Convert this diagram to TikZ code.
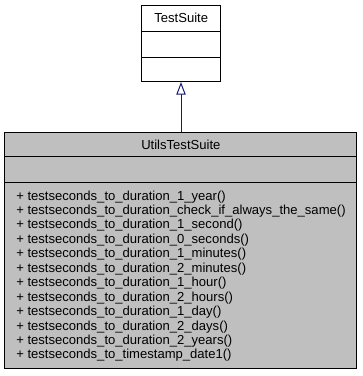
\documentclass[tikz,border=0pt]{standalone}
\usepackage{fontspec}
\setmainfont{Liberation Sans}
\usetikzlibrary{arrows.meta}
\definecolor{classgray}{HTML}{BFBFBF}
\definecolor{edgeblue}{HTML}{191970}
\tikzset{
  classbox/.style={draw=black, line width=0.75pt, rectangle, inner sep=0pt, outer sep=0pt},
  divider/.style={draw=black, line width=0.75pt},
  title/.style={anchor=base, inner sep=0pt, font=\fontsize{9.8pt}{10pt}\selectfont},
  member/.style={anchor=base west, inner sep=0pt, font=\fontsize{9.8pt}{10pt}\selectfont},
  inherit/.style={draw=edgeblue, line width=0.75pt,
    -{Triangle[open, length=9.5pt, width=7pt, fill=white]}}
}
\begin{document}
\begin{tikzpicture}[x=0.75pt, y=-0.75pt]
  \useasboundingbox (0,0) rectangle (363,376);

  % base class
  \node[classbox, fill=white, minimum width=59.25pt, minimum height=57.5pt] (base) at (181.2,43.65) {};
  \draw[divider] (base.west |- 0,31.7) -- (base.east |- 0,31.7);
  \draw[divider] (base.west |- 0,57) -- (base.east |- 0,57);
  \node[title] (basename) at (181.2,22) {TestSuite};

  % derived class
  \node[classbox, fill=classgray, minimum width=263.8pt, minimum height=176.8pt] (derived) at (180.85,250.15) {};
  \draw[divider] (derived.west |- 0,156.7) -- (derived.east |- 0,156.7);
  \draw[divider] (derived.west |- 0,182.3) -- (derived.east |- 0,182.3);
  \node[title] (derivedname) at (180.85,149) {UtilsTestSuite};

  \foreach \m [count=\i from 0] in {
    testseconds\_to\_duration\_1\_year(),
    testseconds\_to\_duration\_check\_if\_always\_the\_same(),
    testseconds\_to\_duration\_1\_second(),
    testseconds\_to\_duration\_0\_seconds(),
    testseconds\_to\_duration\_1\_minutes(),
    testseconds\_to\_duration\_2\_minutes(),
    testseconds\_to\_duration\_1\_hour(),
    testseconds\_to\_duration\_2\_hours(),
    testseconds\_to\_duration\_1\_day(),
    testseconds\_to\_duration\_2\_days(),
    testseconds\_to\_duration\_2\_years(),
    testseconds\_to\_timestamp\_date1()}
    \node[member] (m\i) at (16,{200+14.45*\i}) {+ \m};

  % inheritance edge
  \draw[inherit] (derived.north -| 181,0) -- (base.south -| 181,0);
\end{tikzpicture}
\end{document}
